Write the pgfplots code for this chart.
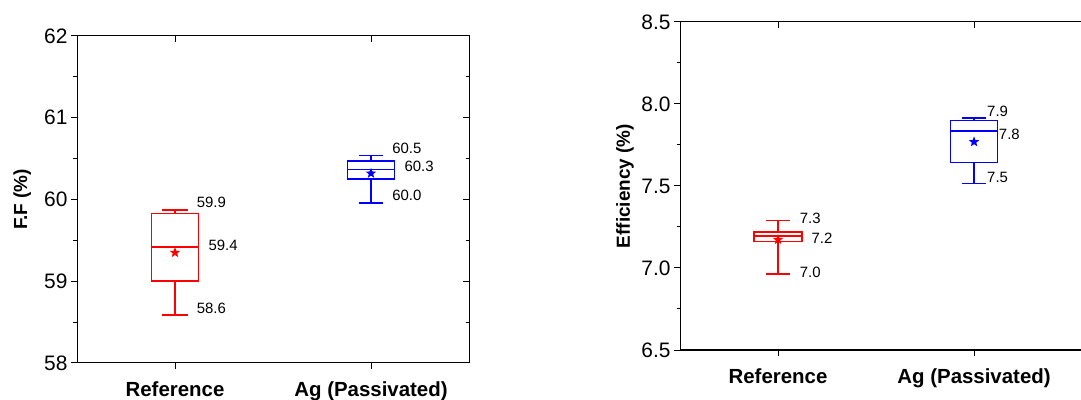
\documentclass[border=0pt]{standalone}
\usepackage{fontspec}
\setmainfont{Liberation Sans}
\usepackage{pgfplots}
\pgfplotsset{compat=1.18}

\pgfdeclareplotmark{fstar}{%
  \pgfpathmoveto{\pgfpointpolar{90}{\pgfplotmarksize}}%
  \pgfpathlineto{\pgfpointpolar{126}{0.42\pgfplotmarksize}}%
  \pgfpathlineto{\pgfpointpolar{162}{\pgfplotmarksize}}%
  \pgfpathlineto{\pgfpointpolar{198}{0.42\pgfplotmarksize}}%
  \pgfpathlineto{\pgfpointpolar{234}{\pgfplotmarksize}}%
  \pgfpathlineto{\pgfpointpolar{270}{0.42\pgfplotmarksize}}%
  \pgfpathlineto{\pgfpointpolar{306}{\pgfplotmarksize}}%
  \pgfpathlineto{\pgfpointpolar{342}{0.42\pgfplotmarksize}}%
  \pgfpathlineto{\pgfpointpolar{18}{\pgfplotmarksize}}%
  \pgfpathlineto{\pgfpointpolar{54}{0.42\pgfplotmarksize}}%
  \pgfpathclose
  \pgfusepathqfill
}

\tikzset{
  lab/.style={anchor=west, font=\fontsize{15}{15}\selectfont, inner sep=0pt},
  bxs/.style={line width=1.5bp, solid, mark=none, line cap=rect, line join=miter},
}

\pgfplotsset{
  panel/.style={
    scale only axis, xmin=0.5,
    xtick={1,2}, xticklabels={Reference, Ag (Passivated)},
    xtick pos=left, ytick pos=left, tick align=outside,
    major tick length=6bp, minor tick length=3.5bp,
    axis line style={line width=1bp, black},
    every tick/.style={black, line width=1bp},
    minor y tick num=1,
    xticklabel style={font=\bfseries\fontsize{20.5}{20.5}\selectfont, yshift=-9bp},
    yticklabel style={font=\fontsize{21}{21}\selectfont},
    /pgf/number format/assume math mode=true,
    ylabel style={font=\bfseries\fontsize{19}{19}\selectfont},
    clip=false, unbounded coords=jump,
  },
  mirror/.style={
    scale only axis, xmin=0.5,
    xtick={1,2}, xticklabels={}, yticklabels={},
    xtick pos=right, ytick pos=right, tick align=inside,
    major tick length=6bp, minor tick length=3.5bp,
    axis line style={line width=1bp, black},
    every tick/.style={black, line width=1bp},
    minor y tick num=1,
  },
}

\begin{document}
\begin{tikzpicture}
\useasboundingbox (0bp,0bp) rectangle (1081bp,400bp);

% ---------- Left panel: F.F ----------
\begin{axis}[panel, at={(77bp,37bp)}, anchor=south west,
  width=392bp, height=327bp, xmax=2.5,
  ymin=58, ymax=62, ytick={58,59,60,61,62},
  ylabel={F.F (\%)},
  ylabel style={at={(axis description cs:-0.14,0.5)}, anchor=center}]
  % Reference: whiskers 58.59 / 59.87, quartiles 59.00 / 59.83, median 59.42
  \addplot[red, bxs] coordinates {(0.88,59.00) (1.12,59.00) (1.12,59.83) (0.88,59.83) (0.88,59.00)};
  \addplot[red, bxs, line cap=butt] coordinates {(0.88,59.42) (1.12,59.42) (nan,nan)
    (1,58.59) (1,59.00) (nan,nan) (1,59.83) (1,59.87) (nan,nan)
    (0.935,58.59) (1.065,58.59) (nan,nan) (0.935,59.87) (1.065,59.87)};
  % Ag (Passivated): whiskers 59.96 / 60.54, quartiles 60.25 / 60.47, median 60.37
  \addplot[blue, bxs] coordinates {(1.88,60.25) (2.12,60.25) (2.12,60.47) (1.88,60.47) (1.88,60.25)};
  \addplot[blue, bxs, line cap=butt] coordinates {(1.88,60.37) (2.12,60.37) (nan,nan)
    (2,59.96) (2,60.25) (nan,nan) (2,60.47) (2,60.54) (nan,nan)
    (1.9375,59.96) (2.0625,59.96) (nan,nan) (1.9375,60.54) (2.0625,60.54)};
  \addplot[only marks, red, mark=fstar, mark size=5.5bp] coordinates {(1,59.35)};
  \addplot[only marks, blue, mark=fstar, mark size=5.5bp] coordinates {(2,60.32)};
  \node[lab] at (axis cs:1.11,59.961) {59.9};
  \node[lab] at (axis cs:1.17,59.435) {59.4};
  \node[lab] at (axis cs:1.11,58.669) {58.6};
  \node[lab] at (axis cs:2.108,60.63) {60.5};
  \node[lab] at (axis cs:2.17,60.406) {60.3};
  \node[lab] at (axis cs:2.108,60.047) {60.0};
\end{axis}
\begin{axis}[mirror, at={(77bp,37bp)}, anchor=south west,
  width=392bp, height=327bp, xmax=2.5,
  ymin=58, ymax=62, ytick={58,59,60,61,62}]
\end{axis}

% ---------- Right panel: Efficiency ----------
\begin{axis}[panel, at={(680bp,50bp)}, anchor=south west,
  width=415bp, height=328bp, xmax=2.617,
  ymin=6.5, ymax=8.5, ytick={6.5,7.0,7.5,8.0,8.5},
  yticklabel style={/pgf/number format/.cd, fixed, fixed zerofill, precision=1},
  ylabel={Efficiency (\%)},
  ylabel style={at={(axis description cs:-0.1325,0.5)}, anchor=center}]
  % Reference: whiskers 6.963 / 7.289, quartiles 7.162 / 7.218, median 7.194
  \addplot[red, bxs] coordinates {(0.8775,7.162) (1.1225,7.162) (1.1225,7.218) (0.8775,7.218) (0.8775,7.162)};
  \addplot[red, bxs, line cap=butt] coordinates {(0.8775,7.194) (1.1225,7.194) (nan,nan)
    (1,6.963) (1,7.162) (nan,nan) (1,7.218) (1,7.289) (nan,nan)
    (0.94,6.963) (1.06,6.963) (nan,nan) (0.94,7.289) (1.06,7.289)};
  % Ag (Passivated): whiskers 7.514 / 7.916, quartiles 7.643 / 7.900, median 7.835
  \addplot[blue, bxs] coordinates {(1.88,7.643) (2.12,7.643) (2.12,7.900) (1.88,7.900) (1.88,7.643)};
  \addplot[blue, bxs, line cap=butt] coordinates {(1.88,7.835) (2.12,7.835) (nan,nan)
    (2,7.514) (2,7.643) (nan,nan) (2,7.900) (2,7.916) (nan,nan)
    (1.939,7.514) (2.061,7.514) (nan,nan) (1.939,7.916) (2.061,7.916)};
  \addplot[only marks, red, mark=fstar, mark size=5.5bp] coordinates {(1,7.173)};
  \addplot[only marks, blue, mark=fstar, mark size=5.5bp] coordinates {(2,7.769)};
  \node[lab] at (axis cs:1.11,7.300) {7.3};
  \node[lab] at (axis cs:1.17,7.184) {7.2};
  \node[lab] at (axis cs:1.11,6.973) {7.0};
  \node[lab] at (axis cs:2.066,7.957) {7.9};
  \node[lab] at (axis cs:2.126,7.814) {7.8};
  \node[lab] at (axis cs:2.066,7.555) {7.5};
\end{axis}
\begin{axis}[mirror, at={(680bp,50bp)}, anchor=south west,
  width=415bp, height=328bp, xmax=2.617,
  ymin=6.5, ymax=8.5, ytick={6.5,7.0,7.5,8.0,8.5}]
\end{axis}
\end{tikzpicture}
\end{document}
